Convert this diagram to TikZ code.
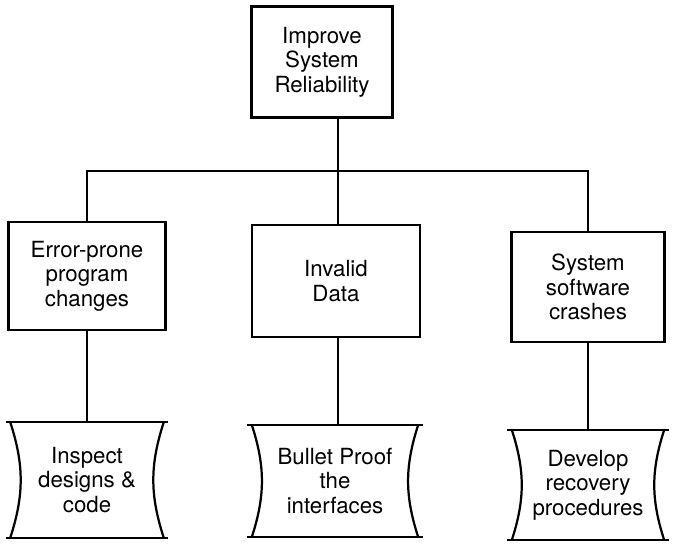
\documentclass[tikz,border=0pt]{standalone}
\usepackage{fontspec}
\setmainfont{TeX Gyre Heros}
\usetikzlibrary{positioning, calc}
\tikzset{
  goalbox/.style={
    rectangle, draw=black, line width=1.9pt,
    align=center, inner sep=2pt,
    font=\fontsize{19}{21}\selectfont
  },
  actbox/.style={
    rectangle, draw=none,
    align=center, inner sep=2pt,
    font=\fontsize{19}{21}\selectfont
  },
  outline/.style={
    line width=1.9pt, draw=black
  },
  link/.style={
    line width=1.4pt, draw=black
  }
}

\begin{document}
\begin{tikzpicture}[x=0.03cm, y=-0.03cm]
\useasboundingbox (0,0) rectangle (673,545);

% --- goal ---
\node[goalbox, minimum width=4.23cm, minimum height=3.33cm] (goal) at (322,62) {Improve\\System\\Reliability};

% --- problems ---
\node[goalbox, minimum width=4.71cm, minimum height=3.24cm] (prog) at (87,276) {Error-prone\\program\\changes};
\node[goalbox, minimum width=5.04cm, minimum height=3.36cm] (data) at (336,281) {Invalid\\Data};
\node[goalbox, minimum width=4.59cm, minimum height=3.3cm] (crash) at (588,287) {System\\software\\crashes};

% --- actions ---
\node[actbox, minimum width=4.59cm, minimum height=3.45cm] (inspect) at (87,480) {Inspect\\designs \&\\code};
\node[actbox, minimum width=4.98cm, minimum height=3.36cm] (bullet) at (335,481) {Bullet Proof\\the\\interfaces};
\node[actbox, minimum width=4.56cm, minimum height=3.3cm] (recover) at (588,485) {Develop\\recovery\\procedures};

% concave-sided outlines
\foreach \n in {inspect, bullet, recover} {
  \draw[outline] ([xshift=-4pt]\n.north west) -- ([xshift=4pt]\n.north east);
  \draw[outline] ([xshift=-4pt]\n.south west) -- ([xshift=4pt]\n.south east);
  \draw[outline] (\n.north west) to[bend left=18] (\n.south west);
  \draw[outline] (\n.north east) to[bend right=18] (\n.south east);
}

% --- tree connectors ---
\coordinate (bus) at (338,171);
\draw[link] (goal.south -| bus) -- (bus);
\draw[link] (prog.north) |- (bus) -| (crash.north);
\draw[link] (bus) -- (data.north -| bus);

\draw[link] (prog) -- (inspect);
\draw[link] (data.south -| bus) -- (bullet.north -| bus);
\draw[link] (crash) -- (recover);

\end{tikzpicture}
\end{document}
